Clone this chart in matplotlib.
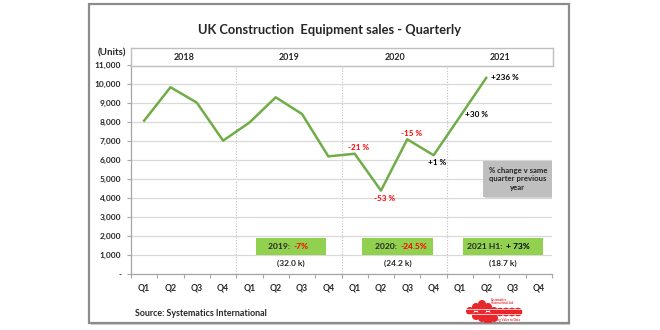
import numpy as np
import matplotlib
matplotlib.use('Agg')
import matplotlib.pyplot as plt
from matplotlib.patches import Rectangle, Circle
from matplotlib.ticker import MultipleLocator, FuncFormatter

plt.rcParams['font.family'] = ['Lato', 'DejaVu Sans']
plt.rcParams['font.weight'] = 'bold'

years = ['2018', '2019', '2020', '2021']
quarters = ['Q1', 'Q2', 'Q3', 'Q4']
units = [8070, 9830, 9020, 7020, 7970, 9300, 8420, 6190,
         6330, 4390, 7090, 6250, 8280, 10320]

# % change v same quarter previous year, for the labelled points
change_idx = [8, 9, 10, 11, 12, 13]
change_text = ['-21 %', '-53 %', '-15 %', '+1 %', '+30 %', '+236 %']
change_color = ['red', 'red', 'red', 'black', 'black', 'black']

annual_label = ['2019:', '2020:', '2021 H1:']
annual_change = ['-7%', '-24.5%', '+ 73%']
annual_change_color = ['red', 'red', 'black']
annual_total = ['(32.0 k)', '(24.2 k)', '(18.7 k)']

W, H = 660, 330
GREEN = '#70AD47'
BOX_GREEN = '#92D050'
TXT = '#262626'


def fx(px):
    return px / W


def fy(py):
    return 1 - py / H


fig = plt.figure(figsize=(6.6, 3.3), dpi=100)

# outer frame, kept behind the axes
fig.patches.append(Rectangle((fx(91), fy(325)), fx(570) - fx(91), fy(6) - fy(325),
                             transform=fig.transFigure, facecolor='#D0D0D0', edgecolor='none', zorder=-20))
fig.patches.append(Rectangle((fx(89), fy(323)), fx(569) - fx(89), fy(4) - fy(323),
                             transform=fig.transFigure, facecolor='white', edgecolor='#8C8C8C',
                             linewidth=1.6, zorder=-10))

fig.text(fx(330), fy(30), 'UK Construction  Equipment sales - Quarterly',
         ha='center', va='center', fontsize=9.3, color=TXT)

# main axes
left, right, top, bottom = 131, 552, 65, 274
ax = fig.add_axes([fx(left), fy(bottom), fx(right) - fx(left), fy(top) - fy(bottom)])
ax.set_facecolor('none')
x = np.arange(len(units)) + 0.5
ax.plot(x, units, color=GREEN, linewidth=1.8, zorder=3)
ax.set_xlim(0, 16)
ax.set_ylim(0, 11000)

ax.yaxis.set_major_locator(MultipleLocator(1000))
ax.yaxis.set_major_formatter(FuncFormatter(lambda v, p: '-' if v == 0 else f'{int(v):,}'))
ax.grid(axis='y', color='#D9D9D9', linewidth=0.9, zorder=0)
for b in (4, 8, 12):
    ax.axvline(b, color='#BFBFBF', linewidth=0.8, linestyle=(0, (1, 1.5)), zorder=1)

ax.set_xticks(np.arange(0, 17))
ax.set_xticklabels([])
ax.set_xticks(np.arange(16) + 0.5, minor=True)
ax.set_xticklabels(quarters * 4, minor=True)
ax.tick_params(axis='x', which='major', length=3, color='#A6A6A6', width=0.8)
ax.tick_params(axis='x', which='minor', length=0, pad=7, labelsize=6.2, labelcolor=TXT)
ax.tick_params(axis='y', length=3, color='#A6A6A6', width=0.8, pad=4, labelsize=6, labelcolor=TXT)
for s in ('top', 'right'):
    ax.spines[s].set_visible(False)
for s in ('left', 'bottom'):
    ax.spines[s].set_color('#A6A6A6')
    ax.spines[s].set_linewidth(0.9)

# percent change labels
offsets = [(4, 6), (4, -8), (4, 6), (4, -7), (14, 2), (14, 0)]
for i, t, c, (dx, dy) in zip(change_idx, change_text, change_color, offsets):
    ha = 'left' if dx > 10 else 'center'
    ax.annotate(t, (x[i], units[i]), xytext=(dx * 0.72 if ha == 'center' else 3.5, dy * 0.72),
                textcoords='offset points', ha=ha, va='center', fontsize=5.9, color=c, zorder=5)

# annual summary boxes
box_x = [(4.75, 7.41), (8.78, 11.48), (12.62, 15.67)]
for (x0, x1), lab, chg, col, tot in zip(box_x, annual_label, annual_change,
                                        annual_change_color, annual_total):
    ax.add_patch(Rectangle((x0, 1000), x1 - x0, 900, facecolor=BOX_GREEN, edgecolor='none', zorder=4))
    xc = (x0 + x1) / 2
    ax.text(xc + 0.05, 1450, lab + ' ', ha='right', va='center', fontsize=6.1, color=TXT, zorder=5)
    ax.text(xc + 0.1, 1450, chg, ha='left', va='center', fontsize=6.1, color=col, zorder=5)
    ax.text(xc, 580, tot, ha='center', va='center', fontsize=6, color=TXT, zorder=5)

ax.add_patch(Rectangle((13.45, 4000), 2.65, 1900, facecolor='#D0D0D0', edgecolor='none', zorder=3))
ax.add_patch(Rectangle((13.38, 4050), 2.65, 1900, facecolor='#BFBFBF', edgecolor='none', zorder=4))
ax.text(14.7, 5000, '% change v same\nquarter previous\nyear', ha='center', va='center',
        fontsize=5.6, color=TXT, linespacing=1.25, zorder=5)

# year header strip
hx = fig.add_axes([fx(131), fy(66), fx(553) - fx(131), fy(48) - fy(66)])
hx.set_xlim(0, 16)
hx.set_ylim(0, 1)
hx.set_xticks([])
hx.set_yticks([])
for s in hx.spines.values():
    s.set_color('#BFBFBF')
    s.set_linewidth(1.0)
for k, yr in enumerate(years):
    hx.text(4 * k + 2, 0.5, yr, ha='center', va='center', fontsize=6.4, color=TXT)

fig.text(fx(112), fy(53), '(Units)', ha='center', va='center', fontsize=7, color=TXT)
fig.text(fx(135), fy(313), 'Source: Systematics International', ha='left', va='center',
         fontsize=6.4, color=TXT)

# company logo
lg = fig.add_axes([fx(465), fy(323), fx(530) - fx(465), fy(297) - fy(323)])
lg.set_xlim(0, 65)
lg.set_ylim(26, 0)
lg.set_aspect('equal')
lg.axis('off')
LOGO_RED = '#E8262B'
dots = [(5, 14), (11, 10), (11, 19), (17, 7), (17, 14), (17, 21), (23, 10), (23, 19),
        (29, 14), (29, 21), (23, 24)]
for cx, cy in dots:
    lg.add_patch(Circle((cx, cy), 3.3, color=LOGO_RED))
for cx in (35, 41, 47, 53):
    lg.add_patch(Circle((cx, 15), 3.6, color=LOGO_RED))
lg.plot([0, 58], [12, 12], color='white', linewidth=0.5)
lg.plot([0, 58], [17, 17], color='white', linewidth=0.5)
lg.text(26, 2.5, 'Systematics', fontsize=2.2, color=LOGO_RED, va='center')
lg.text(26, 6, 'International Ltd.', fontsize=2.2, color=LOGO_RED, va='center')
lg.text(26, 23, 'Adding Value to Data', fontsize=2.2, color=LOGO_RED, va='center')

fig.savefig('out.png', dpi=100)
